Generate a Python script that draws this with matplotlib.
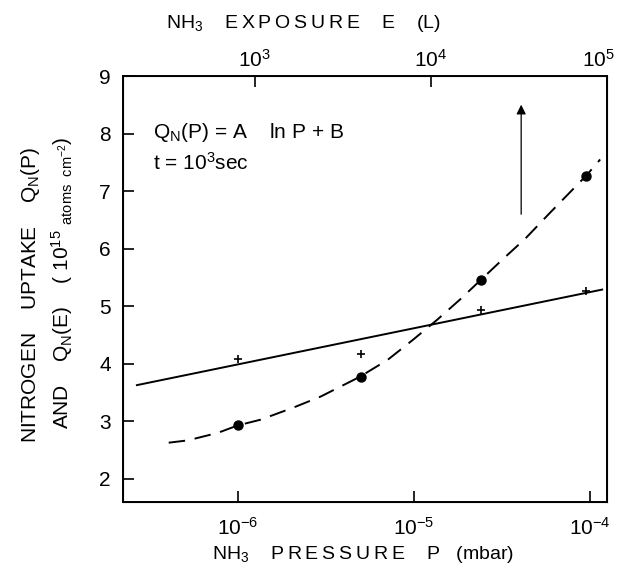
import numpy as np
import matplotlib
matplotlib.use('Agg')
import matplotlib.pyplot as plt
from matplotlib.transforms import ScaledTranslation

plt.rcParams['font.family'] = ['Liberation Sans', 'DejaVu Sans']
plt.rcParams['mathtext.fontset'] = 'custom'
plt.rcParams['mathtext.rm'] = 'Liberation Sans'
plt.rcParams['mathtext.it'] = 'Liberation Sans'

# measured points (pressure in mbar, uptake in 1e15 atoms/cm2)
p_dots = [1e-6, 5e-6, 2.4e-5, 9.5e-5]
q_dots = [2.93, 3.77, 5.46, 7.27]
p_cross = [1e-6, 5e-6, 2.4e-5, 9.5e-5]
q_cross = [4.09, 4.17, 4.94, 5.26]

# Q_N(P) = A ln P + B  (solid line)
p_fit = [2.68e-7, 1.17e-4]
q_fit = [3.63, 5.29]

# Q_N(E) dashed curve
p_curve = [4.06e-7, 5.2e-7, 7.7e-7, 1e-6, 1.35e-6, 2.07e-6, 2.95e-6, 4.9e-6,
           7.1e-6, 9.9e-6, 1.36e-5, 1.83e-5, 2.4e-5, 3.2e-5, 4.3e-5, 5.9e-5,
           9.5e-5, 1.14e-4]
q_curve = [2.63, 2.67, 2.80, 2.93, 3.03, 3.24, 3.43, 3.77,
           4.07, 4.42, 4.77, 5.12, 5.46, 5.82, 6.18, 6.62,
           7.27, 7.55]

exp_factor = 8e8  # E (L) = factor * P (mbar)
x_lim = (2.24e-7, 1.25e-4)
y_lim = (1.6, 9)


def spaced(word):
    # wide lettering like the original stencil text
    return '\u2009'.join(word)


fig = plt.figure(figsize=(6.19, 5.78), dpi=100)
ax = fig.add_axes([0.199, 0.1315, 0.782, 0.737])
ax.set_xscale('log')
ax.set_xlim(*x_lim)
ax.set_ylim(*y_lim)

ax.plot(p_fit, q_fit, color='black', lw=1.4)
ax.plot(p_curve, q_curve, color='black', lw=1.4, ls=(0, (8.5, 5)))
ax.plot(p_dots, q_dots, 'o', color='black', ms=6.5)
ax.plot(p_cross, q_cross, '+', color='black', ms=6, mew=1.2)

ax.annotate('', xy=(4.06e-5, 8.55), xytext=(4.06e-5, 6.55),
            arrowprops=dict(arrowstyle='-|>', color='black', lw=0.9,
                            mutation_scale=14))

ax.text(3.3e-7, 8.02, r'Q$_\mathrm{N}$(P) = A    ln P + B', fontsize=15, va='center')
ax.text(3.3e-7, 7.5, r't = 10$^\mathrm{3}$sec', fontsize=15, va='center')

ax.set_xticks([1e-6, 1e-5, 1e-4])
ax.set_xticklabels([r'$\mathrm{10^{-6}}$', r'$\mathrm{10^{-5}}$', r'$\mathrm{10^{-4}}$'])
ax.xaxis.set_minor_locator(matplotlib.ticker.NullLocator())
ax.set_yticks(range(2, 10))
ax.tick_params(axis='both', direction='in', length=8, width=1.2,
               labelsize=15, pad=9)
ax.tick_params(axis='x', pad=11)
for s in ax.spines.values():
    s.set_linewidth(1.4)

ax2 = ax.twiny()
ax2.set_xscale('log')
ax2.set_xlim(x_lim[0] * exp_factor, x_lim[1] * exp_factor)
ax2.set_xticks([1e3, 1e4, 1e5])
ax2.set_xticklabels([r'$\mathrm{10^{3}}$', r'$\mathrm{10^{4}}$', r'$\mathrm{10^{5}}$'])
ax2.xaxis.set_minor_locator(matplotlib.ticker.NullLocator())
ax2.tick_params(axis='x', direction='in', length=8, width=1.2,
                labelsize=15, pad=4)
last = ax2.get_xticklabels()[-1]
last.set_transform(last.get_transform() + ScaledTranslation(-0.09, 0, fig.dpi_scale_trans))

gap = '    '
fig.text(0.587, 0.04, r'NH$_\mathrm{3}$' + gap + spaced('PRESSURE') + gap + 'P' + '   (mbar)',
         fontsize=14, ha='center', va='center')
fig.text(0.49, 0.96, r'NH$_\mathrm{3}$' + gap + spaced('EXPOSURE') + gap + 'E' + gap + '(L)',
         fontsize=14, ha='center', va='center')

fig.text(0.05, 0.49, r'NITROGEN    UPTAKE    Q$_\mathrm{N}$(P)', rotation=90,
         fontsize=15, ha='center', va='center')
fig.text(0.1, 0.51, r'AND    Q$_\mathrm{N}$(E)    ( 10$^\mathrm{15}$ $_\mathrm{atoms\ \ cm^{-2}}$)',
         rotation=90, fontsize=15, ha='center', va='center')

fig.savefig('out.png', dpi=100)
